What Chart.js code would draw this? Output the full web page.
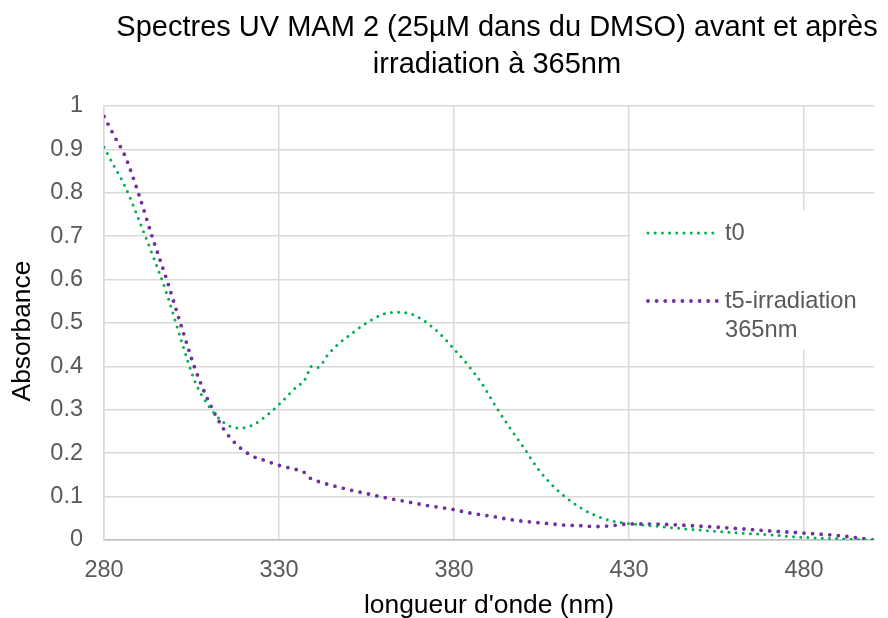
<!DOCTYPE html>
<html>
<head>
<meta charset="utf-8">
<script src="https://cdn.jsdelivr.net/npm/chart.js@4.4.1/dist/chart.umd.min.js"></script>
<style>
  html, body { margin: 0; padding: 0; background: #fff; }
</style>
</head>
<body>
<canvas id="uvChart" width="888" height="618"></canvas>
<script>
const titleLines = ['Spectres UV MAM 2 (25µM dans du DMSO) avant et après', 'irradiation à 365nm'];
const xTitle = "longueur d'onde (nm)";
const yTitle = 'Absorbance';
const xTicks = [280, 330, 380, 430, 480];
const seriesLabels = ['t0', 't5-irradiation 365nm'];

// t0 (before irradiation)
const wlT0 = [280, 283, 286, 290, 294, 298, 302, 306, 310, 314, 318, 322, 326, 330, 334, 338, 339, 341, 344, 347,
  350, 355, 360, 364, 368, 372, 376, 380, 384, 388, 392, 396, 400, 404, 408, 412, 416, 420, 425, 430,
  440, 450, 460, 470, 480, 490, 500];
const absT0 = [0.905, 0.86, 0.815, 0.737, 0.654, 0.566, 0.462, 0.365, 0.308, 0.272, 0.258, 0.263, 0.284, 0.312, 0.345, 0.378, 0.400, 0.397, 0.427, 0.452,
  0.471, 0.500, 0.521, 0.525, 0.520, 0.502, 0.475, 0.440, 0.403, 0.360, 0.307, 0.258, 0.212, 0.164, 0.127, 0.098, 0.075, 0.058, 0.044, 0.038,
  0.030, 0.023, 0.017, 0.012, 0.006, 0.003, 0.0];

// t5 (after 5 min irradiation at 365nm)
const wlT5 = [280, 283, 286, 290, 294, 298, 302, 306, 310, 314, 318, 322, 326, 330, 334, 337, 339, 342, 346,
  350, 355, 360, 364, 368, 372, 376, 380, 384, 388, 392, 396, 400, 404, 408, 412, 416, 420, 425, 430,
  440, 450, 460, 470, 480, 490, 500];
const absT5 = [0.976, 0.93, 0.885, 0.795, 0.693, 0.598, 0.495, 0.395, 0.318, 0.258, 0.219, 0.195, 0.183, 0.172, 0.164, 0.157, 0.142, 0.133, 0.124,
  0.116, 0.107, 0.098, 0.092, 0.086, 0.080, 0.075, 0.070, 0.063, 0.058, 0.053, 0.047, 0.043, 0.040, 0.037, 0.034, 0.033, 0.031, 0.033, 0.037,
  0.036, 0.032, 0.027, 0.021, 0.016, 0.010, 0.0];

const FONT = '"Liberation Sans", Arial, sans-serif';

function toPoints(xs, ys) {
  return xs.map((x, i) => ({ x: x, y: ys[i] }));
}

// Title and y-axis title drawn by hand so they sit where the original has them
const titlePlugin = {
  id: 'titlePlugin',
  afterDraw(chart) {
    const ctx = chart.ctx;
    ctx.save();
    ctx.font = '29px ' + FONT;
    ctx.fillStyle = '#000';
    ctx.textAlign = 'center';
    ctx.textBaseline = 'alphabetic';
    titleLines.forEach((line, i) => ctx.fillText(line, 497, 36 + i * 37));

    ctx.translate(23, 331);
    ctx.rotate(-Math.PI / 2);
    ctx.font = '26.4px ' + FONT;
    ctx.textBaseline = 'middle';
    ctx.fillText(yTitle, 0, 0);
    ctx.restore();
  }
};

// Legend inside the plot area, white box over the gridlines
const legendPlugin = {
  id: 'legendPlugin',
  afterDraw(chart) {
    const { ctx, chartArea } = chart;
    const left = chart.scales.x.getPixelForValue(430) + 1;
    ctx.save();
    ctx.fillStyle = '#fff';
    ctx.fillRect(left, 210, chartArea.right - left, 140);
    const rows = [233, 301];
    chart.data.datasets.forEach((ds, i) => {
      const y = rows[i];
      ctx.beginPath();
      ctx.setLineDash(ds.borderDash);
      ctx.lineCap = 'round';
      ctx.lineWidth = ds.borderWidth;
      ctx.strokeStyle = ds.borderColor;
      ctx.moveTo(648, y);
      ctx.lineTo(717, y);
      ctx.stroke();
      ctx.setLineDash([]);
      ctx.font = '23.7px ' + FONT;
      ctx.fillStyle = '#595959';
      ctx.textAlign = 'left';
      ctx.textBaseline = 'middle';
      ds.label.split(' ').forEach((part, j) => ctx.fillText(part, 725, y + j * 29));
    });
    ctx.restore();
  }
};

const ctx = document.getElementById('uvChart').getContext('2d');
const chart = new Chart(ctx, {
  type: 'line',
  data: {
    datasets: [
      {
        label: seriesLabels[0],
        data: toPoints(wlT0, absT0),
        borderColor: '#00b050',
        borderWidth: 3,
        borderDash: [0, 7.2],
        borderCapStyle: 'round',
        pointRadius: 0,
        cubicInterpolationMode: 'monotone',
        fill: false
      },
      {
        label: seriesLabels[1],
        data: toPoints(wlT5, absT5),
        borderColor: '#7030a0',
        borderWidth: 3.8,
        borderDash: [0, 8.6],
        borderCapStyle: 'round',
        pointRadius: 0,
        cubicInterpolationMode: 'monotone',
        fill: false
      }
    ]
  },
  options: {
    responsive: false,
    animation: false,
    devicePixelRatio: 1,
    layout: { padding: { top: 106, right: 14, left: 0, bottom: 0 } },
    plugins: {
      legend: { display: false },
      title: { display: false },
      tooltip: { enabled: false }
    },
    scales: {
      x: {
        type: 'linear',
        min: 280,
        max: 500,
        afterBuildTicks: (scale) => { scale.ticks = xTicks.map(v => ({ value: v })); },
        afterFit: (scale) => { scale.height = 78; },
        grid: { color: '#d9d9d9', lineWidth: 1.5, drawTicks: false },
        border: { color: '#bfbfbf', width: 1.5 },
        ticks: {
          padding: 16,
          color: '#595959',
          font: { family: FONT, size: 23.5 },
          maxRotation: 0,
          callback: (v) => String(v)
        },
        title: {
          display: true,
          text: xTitle,
          color: '#000',
          font: { family: FONT, size: 26.4 },
          padding: { top: 0, bottom: -4 }
        }
      },
      y: {
        min: 0,
        max: 1,
        afterFit: (scale) => { scale.width = 104; },
        grid: { color: '#d9d9d9', lineWidth: 1.5, drawTicks: false },
        border: { color: '#d9d9d9', width: 1.5 },
        ticks: {
          stepSize: 0.1,
          padding: 21,
          color: '#595959',
          font: { family: FONT, size: 23.5 },
          callback: (v) => String(Math.round(v * 10) / 10)
        },
        title: { display: false }
      }
    }
  },
  plugins: [titlePlugin, legendPlugin]
});
</script>
</body>
</html>
